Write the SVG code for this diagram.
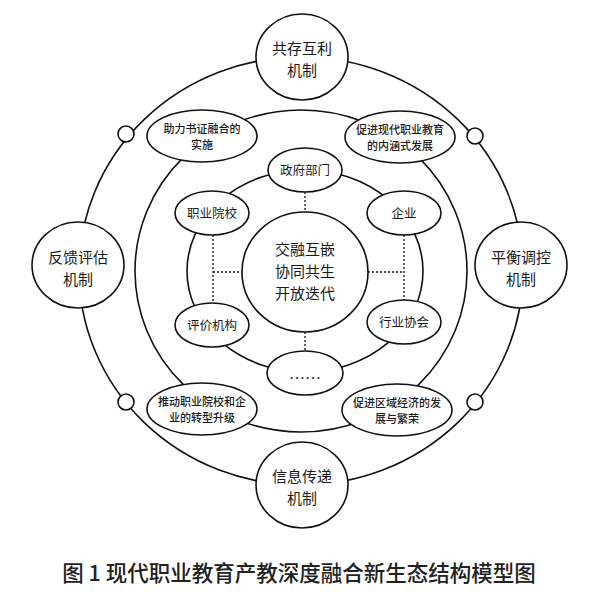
<svg xmlns="http://www.w3.org/2000/svg" width="600" height="599" viewBox="0 0 600 599">
<style>
.ring{fill:none;stroke:#111;stroke-width:1.6}
.dot{fill:none;stroke:#111;stroke-width:1.3;stroke-dasharray:2 2}
.nd{fill:#fff;stroke:#111;stroke-width:1.6}
text{font-family:"Noto Sans CJK SC","Noto Sans",sans-serif;fill:#1a1a1a;text-anchor:middle}
.mech{font-size:15px}
.mid{font-size:11px;font-weight:500}
.inn{font-size:12.5px}
.ctr{font-size:15px}
.cap{font-size:21.5px;font-weight:500;fill:#222}
</style>
<rect width="600" height="599" fill="#fff"/>
<g id="connectors">
<ellipse class="ring" cx="301" cy="271" rx="222" ry="214"/>
<ellipse class="ring" cx="301" cy="271" rx="166" ry="161"/>
<ellipse class="ring" cx="305" cy="271" rx="118" ry="101"/>
<line class="dot" x1="305" y1="192" x2="305" y2="212"/>
<line class="dot" x1="305" y1="332" x2="305" y2="351"/>
<line class="dot" x1="213" y1="235" x2="213" y2="303"/>
<line class="dot" x1="213" y1="272" x2="242" y2="272"/>
<line class="dot" x1="404" y1="235" x2="404" y2="300"/>
<line class="dot" x1="368" y1="272" x2="404" y2="272"/>
</g>
<g id="junction-tl"><circle class="nd" cx="126" cy="134" r="8"/></g>
<g id="junction-tr"><circle class="nd" cx="475" cy="136" r="8"/></g>
<g id="junction-bl"><circle class="nd" cx="126" cy="402" r="8"/></g>
<g id="junction-br"><circle class="nd" cx="475" cy="402" r="8"/></g>
<g id="mech-top"><ellipse class="nd" cx="302" cy="57" rx="46" ry="43"/>
<text class="mech" x="302" y="54"><tspan x="302">共存互利</tspan><tspan x="302" dy="22">机制</tspan></text></g>
<g id="mech-bottom"><ellipse class="nd" cx="302" cy="485" rx="46" ry="43"/>
<text class="mech" x="302" y="482"><tspan x="302">信息传递</tspan><tspan x="302" dy="22">机制</tspan></text></g>
<g id="mech-left"><ellipse class="nd" cx="78" cy="265" rx="46" ry="43"/>
<text class="mech" x="78" y="263"><tspan x="78">反馈评估</tspan><tspan x="78" dy="22">机制</tspan></text></g>
<g id="mech-right"><ellipse class="nd" cx="521" cy="265" rx="46" ry="43"/>
<text class="mech" x="521" y="263"><tspan x="521">平衡调控</tspan><tspan x="521" dy="22">机制</tspan></text></g>
<g id="mid-tl"><ellipse class="nd" cx="202" cy="136" rx="55" ry="26"/>
<text class="mid" x="202" y="133"><tspan x="202">助力书证融合的</tspan><tspan x="202" dy="16">实施</tspan></text></g>
<g id="mid-tr"><ellipse class="nd" cx="400" cy="137" rx="55" ry="26"/>
<text class="mid" x="400" y="134"><tspan x="400">促进现代职业教育</tspan><tspan x="400" dy="16">的内涵式发展</tspan></text></g>
<g id="mid-bl"><ellipse class="nd" cx="202" cy="409" rx="55" ry="26"/>
<text class="mid" x="202" y="406"><tspan x="202">推动职业院校和企</tspan><tspan x="202" dy="16">业的转型升级</tspan></text></g>
<g id="mid-br"><ellipse class="nd" cx="397" cy="410" rx="55" ry="26"/>
<text class="mid" x="397" y="407"><tspan x="397">促进区域经济的发</tspan><tspan x="397" dy="16">展与繁荣</tspan></text></g>
<g id="gov"><ellipse class="nd" cx="305" cy="170" rx="37" ry="22"/><text class="inn" x="305" y="175">政府部门</text></g>
<g id="school"><ellipse class="nd" cx="212" cy="213" rx="37" ry="22"/><text class="inn" x="212" y="218">职业院校</text></g>
<g id="enterprise"><ellipse class="nd" cx="404" cy="213" rx="37" ry="22"/><text class="inn" x="404" y="218">企业</text></g>
<g id="evaluator"><ellipse class="nd" cx="212" cy="325" rx="37" ry="22"/><text class="inn" x="212" y="330">评价机构</text></g>
<g id="association"><ellipse class="nd" cx="404" cy="322" rx="37" ry="22"/><text class="inn" x="404" y="327">行业协会</text></g>
<g id="others"><ellipse class="nd" cx="305" cy="373" rx="38" ry="22"/><text x="305" y="379" style="font-family:'Liberation Serif',serif;font-size:16px">……</text></g>
<g id="core"><ellipse class="nd" cx="305" cy="272" rx="63" ry="60"/>
<text class="ctr" x="305" y="255"><tspan x="305">交融互嵌</tspan><tspan x="305" dy="22">协同共生</tspan><tspan x="305" dy="22">开放迭代</tspan></text></g>
<text class="cap" x="299" y="581">图 1 现代职业教育产教深度融合新生态结构模型图</text>
</svg>
